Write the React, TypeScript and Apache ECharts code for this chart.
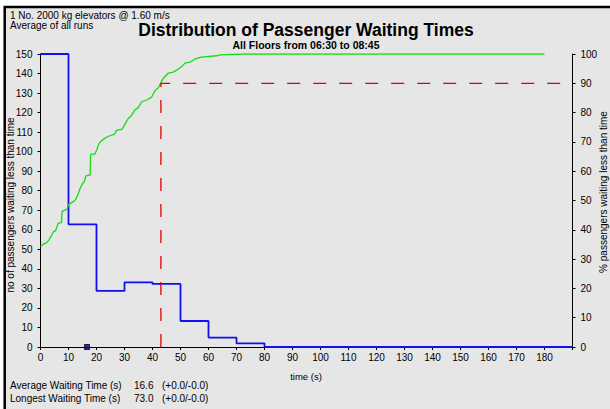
import React, { useEffect, useRef } from "react";
import * as echarts from "echarts";

// Histogram of passengers per 10 s waiting-time bin (left axis)
const binStarts = [0, 10, 20, 30, 40, 50, 60, 70, 80, 190];
const binCounts = [150, 62.8, 28.7, 33.1, 32.3, 13.3, 4.8, 1.9, 0, 0];

// Cumulative % of passengers waiting less than time (right axis)
const cumTimes = [
  0, 1.0, 2.2, 3.0, 4.0, 4.6, 5.4, 6.3, 7.5, 7.7, 8.7, 9.5, 9.9, 11.7, 12.5, 13.3,
  14.1, 15.1, 15.6, 16.2, 17.7, 17.9, 19.4, 20.1, 20.9, 21.7, 22.9, 24.7, 26.4,
  27.1, 29.2, 30.0, 31.2, 32.4, 33.7, 34.9, 36.1, 37.9, 39.7, 40.9, 42.1, 43.0,
  43.9, 45.7, 47.4, 49.3, 50.4, 51.6, 53.4, 55.2, 57.5, 62.9, 64.1, 72.4, 180,
];
const cumPercent = [
  34.3, 35.1, 35.6, 36.5, 38.2, 39.3, 39.7, 42.2, 42.5, 46.2, 46.7, 47.0, 48.5, 49.6,
  50.3, 51.9, 54.0, 55.9, 56.3, 58.4, 58.7, 65.8, 65.8, 67.3, 69.5, 70.3, 71.2, 72.1,
  72.6, 73.9, 74.4, 75.8, 77.8, 78.9, 80.9, 81.7, 83.7, 84.3, 85.3, 87.5, 88.5, 90.3,
  91.7, 93.5, 93.8, 94.9, 95.7, 96.9, 97.2, 98.3, 98.9, 99.4, 99.7, 100, 100,
];

// 90th percentile marker
const p90Time = 43.0;
const p90Level = 90;
const xMax = 190;

// Summary values
const avgWait = 16.6;
const longestWait = 73.0;
const summaryLabels = ["Average Waiting Time (s)", "Longest Waiting Time (s)"];
const summaryValues = [avgWait, longestWait];
const summaryTolerance = ["(+0.0/-0.0)", "(+0.0/-0.0)"];

const FONT = "Arial, 'Liberation Sans', sans-serif";

export default function App() {
  const ref = useRef<HTMLDivElement>(null);
  useEffect(() => {
    if (!ref.current) return;
    const chart = echarts.init(ref.current, undefined, { renderer: "svg" });
    const histData = binStarts.map((t, i) => [t, binCounts[i]]);
    const cumData = cumTimes.map((t, i) => [t, cumPercent[i]]);
    const p90Data = [
      [p90Time, 0],
      [p90Time, p90Level],
      [xMax, p90Level],
    ];
    const summaryGraphics: any[] = [];
    summaryLabels.forEach((lab, i) => {
      const y = 385 + i * 13;
      summaryGraphics.push(
        { type: "text", x: 10, y, style: { text: lab, fontSize: 10, fontFamily: FONT, fill: "#000", verticalAlign: "middle" } },
        { type: "text", x: 134, y, style: { text: summaryValues[i].toFixed(1), fontSize: 10, fontFamily: FONT, fill: "#000", verticalAlign: "middle" } },
        { type: "text", x: 162, y, style: { text: summaryTolerance[i], fontSize: 10, fontFamily: FONT, fill: "#000", verticalAlign: "middle" } }
      );
    });
    const axisLabelStyle = { color: "#000", fontSize: 10, fontFamily: FONT };
    chart.setOption({
      animation: false,
      backgroundColor: "#ffffff",
      grid: { left: 40.5, right: 37.5, top: 54, bottom: 62, containLabel: false },
      xAxis: {
        type: "value",
        min: 0,
        max: xMax,
        interval: 10,
        axisLine: { show: true, lineStyle: { color: "#000", width: 1 } },
        axisTick: { show: true, length: 3, lineStyle: { color: "#000" } },
        axisLabel: {
          ...axisLabelStyle,
          margin: 5,
          formatter: (v: number) => (v === xMax ? "" : String(v)),
        },
        splitLine: { show: false },
      },
      yAxis: [
        {
          type: "value",
          min: 0,
          max: 150,
          interval: 10,
          position: "left",
          axisLine: { show: true, lineStyle: { color: "#000", width: 1 } },
          axisTick: { show: true, length: 3, lineStyle: { color: "#000" } },
          axisLabel: { ...axisLabelStyle, margin: 8 },
          splitLine: { show: false },
        },
        {
          type: "value",
          min: 0,
          max: 100,
          interval: 10,
          position: "right",
          axisLine: { show: true, lineStyle: { color: "#000", width: 1 } },
          axisTick: { show: true, length: 3, lineStyle: { color: "#000" } },
          axisLabel: { ...axisLabelStyle, margin: 8 },
          splitLine: { show: false },
        },
      ],
      series: [
        {
          type: "line",
          name: "histogram",
          data: histData,
          step: "end",
          yAxisIndex: 0,
          symbol: "none",
          lineStyle: { color: "#1010f0", width: 1.8 },
          z: 3,
        },
        {
          type: "line",
          name: "cumulative",
          data: cumData,
          yAxisIndex: 1,
          symbol: "none",
          lineStyle: { color: "#16dc16", width: 1.3 },
          z: 4,
        },
        {
          type: "line",
          name: "p90",
          data: p90Data,
          yAxisIndex: 1,
          symbol: "none",
          lineStyle: { color: "#e00000", width: 1.3, type: [13, 13] },
          z: 5,
        },
        {
          type: "scatter",
          name: "average",
          data: [[avgWait, 0]],
          yAxisIndex: 0,
          symbol: "rect",
          symbolSize: 5,
          itemStyle: { color: "#000090", borderColor: "#000", borderWidth: 1 },
          z: 6,
        },
      ],
      graphic: [
        {
          type: "rect",
          z: -100,
          shape: { x: 4.7, y: 7, width: 700, height: 500 },
          style: { fill: "#e6e6e6", stroke: "#000", lineWidth: 2.5 },
        },
        { type: "text", x: 10, y: 15, style: { text: "1 No. 2000 kg elevators @ 1.60 m/s", fontSize: 10, fontFamily: FONT, fill: "#000", verticalAlign: "middle" } },
        { type: "text", x: 10, y: 25.5, style: { text: "Average of all runs", fontSize: 10, fontFamily: FONT, fill: "#000", verticalAlign: "middle" } },
        { type: "text", x: 306, y: 29.5, style: { text: "Distribution of Passenger Waiting Times", fontSize: 17.5, fontWeight: "bold", fontFamily: FONT, fill: "#000", align: "center", verticalAlign: "middle" } },
        { type: "text", x: 306, y: 44.5, style: { text: "All Floors from 06:30 to 08:45", fontSize: 10.5, fontWeight: "bold", fontFamily: FONT, fill: "#000", align: "center", verticalAlign: "middle" } },
        { type: "text", x: 306, y: 376, style: { text: "time (s)", fontSize: 9.5, fontFamily: FONT, fill: "#000", align: "center", verticalAlign: "middle" } },
        { type: "text", x: 10.5, y: 205, rotation: Math.PI / 2, style: { text: "no of passengers waiting less than time", fontSize: 10, fontFamily: FONT, fill: "#000", align: "center", verticalAlign: "middle" } },
        { type: "text", x: 603.5, y: 192, rotation: Math.PI / 2, style: { text: "% passengers waiting less than time", fontSize: 10, fontFamily: FONT, fill: "#000", align: "center", verticalAlign: "middle" } },
        ...summaryGraphics,
      ],
    });
    return () => chart.dispose();
  }, []);
  return <div ref={ref} style={{ position: "fixed", left: 0, top: 0, width: 610, height: 409 }} />;
}
